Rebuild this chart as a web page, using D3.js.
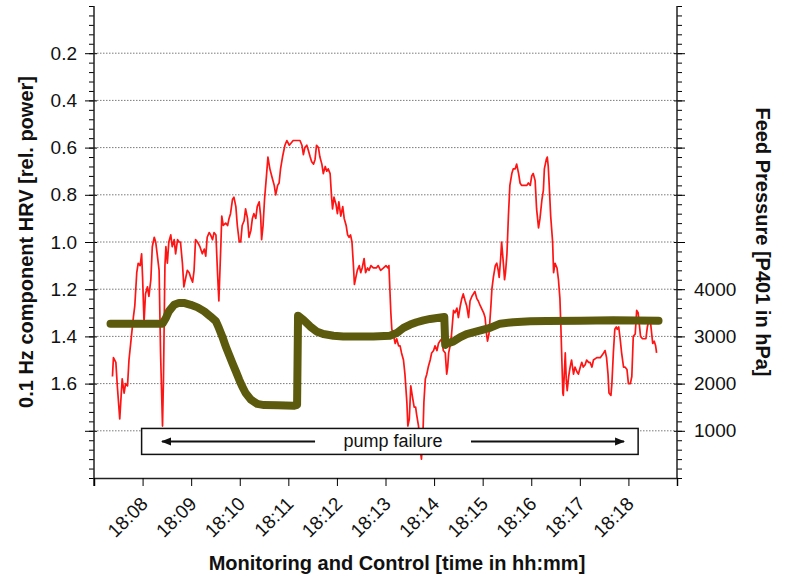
<!DOCTYPE html>
<html lang="en">
<head>
<meta charset="UTF-8">
<title>0.1 Hz HRV vs Feed Pressure</title>
<script src="https://d3js.org/d3.v7.min.js"></script>
<style>
  body { margin: 0; background: #fff; }
  svg { display: block; font-family: Arial, "Liberation Sans", Helvetica, sans-serif; }
</style>
</head>
<body>
<svg width="786" height="577"></svg>
<script>
// [minutes after 18:00, 0.1 Hz component HRV in rel. power]
const hrvSeries = [
  [7.38,1.57],[7.40,1.49],[7.45,1.51],[7.48,1.61],[7.53,1.75],[7.58,1.58],[7.62,1.64],[7.65,1.60],
  [7.69,1.61],[7.72,1.50],[7.77,1.40],[7.81,1.32],[7.84,1.27],[7.88,1.13],[7.91,1.09],[7.95,1.10],
  [7.98,1.05],[8.00,1.15],[8.03,1.34],[8.06,1.22],[8.10,1.19],[8.13,1.23],[8.17,1.16],[8.20,1.02],
  [8.24,0.98],[8.27,1.00],[8.30,1.05],[8.34,1.12],[8.37,1.47],[8.41,1.78],[8.43,1.58],[8.46,1.10],
  [8.48,1.02],[8.51,1.09],[8.54,1.00],[8.58,0.97],[8.61,1.02],[8.65,0.99],[8.68,1.05],[8.72,0.99],
  [8.75,1.00],[8.78,1.00],[8.82,1.09],[8.85,1.19],[8.89,1.15],[8.92,1.12],[8.96,1.13],[8.99,1.15],
  [9.03,1.17],[9.06,1.12],[9.09,0.99],[9.13,1.00],[9.18,1.02],[9.23,1.05],[9.27,1.03],[9.30,1.06],
  [9.33,0.98],[9.37,0.96],[9.40,0.97],[9.44,0.99],[9.47,0.96],[9.51,0.97],[9.54,1.12],[9.57,1.25],
  [9.61,1.02],[9.63,0.89],[9.66,0.93],[9.71,0.92],[9.75,0.93],[9.78,0.90],[9.81,0.88],[9.85,0.82],
  [9.88,0.81],[9.92,0.85],[9.95,0.93],[9.99,1.00],[10.02,1.00],[10.05,0.93],[10.09,0.91],[10.12,0.86],
  [10.16,0.90],[10.19,0.98],[10.23,0.95],[10.26,0.90],[10.29,0.88],[10.33,0.90],[10.36,0.85],[10.40,0.83],
  [10.43,0.89],[10.45,0.99],[10.48,0.93],[10.51,0.82],[10.55,0.72],[10.58,0.64],[10.62,0.69],[10.67,0.73],
  [10.71,0.76],[10.74,0.80],[10.78,0.76],[10.81,0.75],[10.84,0.69],[10.88,0.64],[10.93,0.59],[10.97,0.57],
  [11.02,0.59],[11.10,0.57],[11.17,0.57],[11.24,0.57],[11.28,0.59],[11.31,0.63],[11.34,0.60],[11.38,0.59],
  [11.41,0.61],[11.45,0.64],[11.48,0.66],[11.52,0.67],[11.55,0.65],[11.58,0.59],[11.62,0.60],[11.65,0.64],
  [11.69,0.67],[11.72,0.71],[11.76,0.68],[11.79,0.70],[11.82,0.69],[11.86,0.71],[11.89,0.81],[11.91,0.86],
  [11.94,0.81],[11.98,0.84],[12.01,0.88],[12.04,0.83],[12.08,0.89],[12.12,0.85],[12.15,0.90],[12.19,0.93],
  [12.22,0.97],[12.25,0.98],[12.28,0.97],[12.31,1.00],[12.34,1.10],[12.36,1.18],[12.39,1.15],[12.42,1.12],
  [12.46,1.10],[12.49,1.13],[12.52,1.11],[12.56,1.07],[12.59,1.13],[12.63,1.11],[12.66,1.12],[12.70,1.10],
  [12.75,1.11],[12.81,1.11],[12.85,1.10],[12.90,1.12],[12.96,1.11],[13.01,1.10],[13.05,1.11],[13.07,1.10],
  [13.09,1.20],[13.11,1.30],[13.13,1.37],[13.16,1.39],[13.20,1.43],[13.23,1.41],[13.27,1.44],[13.30,1.44],
  [13.33,1.47],[13.37,1.50],[13.40,1.56],[13.44,1.68],[13.46,1.78],[13.49,1.75],[13.52,1.61],[13.55,1.65],
  [13.59,1.70],[13.62,1.70],[13.64,1.73],[13.68,1.78],[13.71,1.87],[13.74,1.92],[13.77,1.82],[13.79,1.68],
  [13.82,1.58],[13.85,1.56],[13.88,1.53],[13.92,1.50],[13.95,1.47],[13.99,1.46],[14.02,1.44],[14.06,1.46],
  [14.09,1.43],[14.12,1.42],[14.16,1.41],[14.19,1.46],[14.23,1.47],[14.26,1.56],[14.28,1.53],[14.30,1.47],
  [14.33,1.44],[14.36,1.39],[14.40,1.29],[14.43,1.30],[14.47,1.28],[14.50,1.32],[14.54,1.27],[14.57,1.24],
  [14.60,1.22],[14.64,1.25],[14.67,1.27],[14.71,1.32],[14.74,1.25],[14.78,1.23],[14.81,1.22],[14.84,1.21],
  [14.88,1.24],[14.91,1.25],[14.95,1.27],[15.02,1.30],[15.05,1.32],[15.08,1.39],[15.10,1.42],[15.13,1.39],
  [15.17,1.27],[15.19,1.20],[15.22,1.15],[15.26,1.10],[15.29,1.09],[15.32,1.12],[15.34,1.15],[15.37,1.07],
  [15.39,1.00],[15.43,1.10],[15.45,1.16],[15.47,1.13],[15.50,1.05],[15.53,0.89],[15.56,0.76],[15.60,0.71],
  [15.63,0.69],[15.67,0.69],[15.70,0.67],[15.74,0.71],[15.77,0.75],[15.80,0.76],[15.84,0.76],[15.87,0.76],
  [15.91,0.76],[15.94,0.75],[15.98,0.76],[16.01,0.72],[16.04,0.71],[16.08,0.74],[16.11,0.86],[16.15,0.94],
  [16.18,0.90],[16.22,0.82],[16.25,0.78],[16.27,0.69],[16.31,0.65],[16.33,0.64],[16.35,0.68],[16.37,0.76],
  [16.40,0.89],[16.44,1.00],[16.46,1.13],[16.49,1.09],[16.53,1.11],[16.56,1.16],[16.59,1.24],[16.61,1.36],
  [16.63,1.50],[16.65,1.64],[16.66,1.65],[16.68,1.56],[16.70,1.47],[16.72,1.58],[16.74,1.63],[16.77,1.57],
  [16.80,1.53],[16.83,1.50],[16.87,1.56],[16.90,1.53],[16.94,1.55],[16.97,1.56],[17.01,1.53],[17.04,1.51],
  [17.07,1.53],[17.11,1.52],[17.14,1.50],[17.18,1.51],[17.21,1.51],[17.25,1.53],[17.28,1.50],[17.35,1.49],
  [17.42,1.49],[17.49,1.47],[17.52,1.46],[17.55,1.49],[17.58,1.56],[17.60,1.64],[17.64,1.65],[17.66,1.60],
  [17.69,1.47],[17.72,1.37],[17.75,1.36],[17.77,1.37],[17.80,1.36],[17.83,1.41],[17.86,1.47],[17.90,1.53],
  [17.93,1.53],[17.97,1.54],[18.00,1.60],[18.04,1.60],[18.07,1.57],[18.10,1.40],[18.14,1.39],[18.17,1.29],
  [18.20,1.30],[18.23,1.36],[18.25,1.40],[18.29,1.41],[18.32,1.41],[18.36,1.41],[18.39,1.36],[18.42,1.33],
  [18.45,1.33],[18.47,1.37],[18.50,1.43],[18.53,1.42],[18.56,1.44],[18.58,1.47]
];

// [minutes after 18:00, feed pressure P401 in hPa]
const pressureSeries = [
  [7.34,3270],[8.41,3270],[8.48,3390],[8.54,3530],[8.65,3670],[8.75,3710],[8.85,3710],[8.99,3670],
  [9.13,3615],[9.27,3530],[9.40,3420],[9.51,3320],[9.57,3180],[9.64,3000],[9.71,2790],[9.78,2610],
  [9.85,2430],[9.92,2260],[9.99,2080],[10.05,1940],[10.12,1800],[10.23,1660],[10.36,1570],[10.50,1545],
  [10.78,1540],[11.12,1530],[11.18,1550],[11.20,3440],[11.31,3350],[11.45,3210],[11.58,3105],[11.72,3050],
  [11.93,3015],[12.13,3000],[12.41,3000],[12.75,3000],[13.09,3015],[13.23,3070],[13.37,3180],[13.51,3250],
  [13.64,3300],[13.78,3340],[13.92,3370],[14.06,3390],[14.21,3410],[14.23,2820],[14.26,2845],[14.40,2895],
  [14.54,2985],[14.67,3050],[14.88,3105],[15.15,3180],[15.36,3270],[15.63,3300],[15.98,3320],[16.32,3325],
  [17.01,3330],[17.69,3340],[18.62,3330]
];

const hrvLabels = [0.2, 0.4, 0.6, 0.8, 1.0, 1.2, 1.4, 1.6];
const hrvGrid = [0.2, 0.4, 0.6, 0.8, 1.0, 1.2, 1.4, 1.6, 1.8];
const pressureLabels = [1000, 2000, 3000, 4000];
const timeLabels = ["18:08", "18:09", "18:10", "18:11", "18:12", "18:13", "18:14", "18:15", "18:16", "18:17", "18:18"];
// pump failure annotation: box span and arrow span, minutes after 18:00
const failureBox = [7.98, 18.20];
const failureArrows = [[8.40, 11.55], [14.76, 17.91]];

const at = m => new Date(2000, 0, 1, 18, 0, 0, Math.round(m * 60000));
const fmt = d3.timeFormat("%H:%M");

const svg = d3.select("svg");
const plotLeft = 94, plotRight = 677, plotTop = 6, plotBottom = 478;
const tickFont = 19, titleFont = 20;

const x = d3.scaleTime().domain([at(7), at(19)]).range([plotLeft, plotRight]);
const yL = d3.scaleLinear().domain([0, 2]).range([plotTop, plotBottom]);
const yR = d3.scaleLinear().domain([0, 10000]).range([plotBottom, plotTop]);

// gridlines
svg.append("g").selectAll("line")
  .data(hrvGrid)
  .join("line")
  .attr("x1", plotLeft).attr("x2", plotRight)
  .attr("y1", d => yL(d)).attr("y2", d => yL(d))
  .attr("stroke", "#7a7a7a")
  .attr("stroke-width", 1)
  .attr("stroke-dasharray", "1.5,1.5");

// left axis: minor + major ticks
const gL = svg.append("g").attr("transform", `translate(${plotLeft},0)`);
gL.append("g").call(d3.axisLeft(yL).tickValues(d3.range(0, 2.001, 0.04)).tickSize(5).tickFormat(""))
  .call(g => g.select(".domain").remove());
gL.append("g").call(d3.axisLeft(yL).tickValues(d3.range(0.2, 1.81, 0.2)).tickSize(9).tickPadding(8)
    .tickFormat(d => hrvLabels.some(v => Math.abs(v - d) < 1e-6) ? d3.format(".1f")(d) : ""))
  .call(g => g.select(".domain").remove())
  .call(g => g.selectAll(".tick line").attr("x1", 3))
  .call(g => g.selectAll("text").attr("font-size", tickFont).attr("fill", "#111").attr("font-family", null));
gL.append("line").attr("y1", plotTop).attr("y2", plotBottom + 8).attr("stroke", "#222").attr("stroke-width", 1.5);

// right axis
const gR = svg.append("g").attr("transform", `translate(${plotRight},0)`);
gR.append("g").call(d3.axisRight(yR).tickValues(d3.range(0, 10001, 200)).tickSize(5).tickFormat(""))
  .call(g => g.select(".domain").remove());
gR.append("g").call(d3.axisRight(yR).tickValues(d3.range(1000, 9001, 1000)).tickSize(8).tickPadding(9)
    .tickFormat(d => pressureLabels.includes(d) ? d : ""))
  .call(g => g.select(".domain").remove())
  .call(g => g.selectAll(".tick line").attr("x1", -3))
  .call(g => g.selectAll("text").attr("font-size", tickFont).attr("fill", "#111").attr("font-family", null));
gR.append("line").attr("y1", plotTop).attr("y2", plotBottom).attr("stroke", "#222").attr("stroke-width", 1.5);

// bottom axis
const gX = svg.append("g").attr("transform", `translate(0,${plotBottom})`);
gX.call(d3.axisBottom(x).tickValues(d3.range(7, 19.5, 1).map(at)).tickSize(8)
    .tickFormat(d => timeLabels.includes(fmt(d)) ? fmt(d) : ""))
  .call(g => g.select(".domain").attr("stroke-width", 1.5).attr("stroke", "#222"))
  .call(g => g.selectAll("text")
    .attr("font-size", tickFont).attr("fill", "#111").attr("font-family", null)
    .attr("text-anchor", "end")
    .attr("x", 0).attr("y", 0).attr("dy", 0)
    .attr("transform", "translate(6,27) rotate(-45)"));

// HRV line (red)
svg.append("path")
  .datum(hrvSeries)
  .attr("fill", "none")
  .attr("stroke", "#ff1414")
  .attr("stroke-width", 1.7)
  .attr("stroke-linejoin", "round")
  .attr("d", d3.line().x(d => x(at(d[0]))).y(d => yL(d[1])));

// feed pressure line (olive)
svg.append("path")
  .datum(pressureSeries)
  .attr("fill", "none")
  .attr("stroke", "#5c5a0c")
  .attr("stroke-width", 8)
  .attr("stroke-linejoin", "round")
  .attr("stroke-linecap", "round")
  .attr("d", d3.line().x(d => x(at(d[0]))).y(d => yR(d[1])));

// pump failure annotation
const boxTop = yL(1.79), boxBot = yL(1.90), midY = yL(1.845);
svg.append("rect")
  .attr("x", x(at(failureBox[0]))).attr("y", boxTop)
  .attr("width", x(at(failureBox[1])) - x(at(failureBox[0]))).attr("height", boxBot - boxTop)
  .attr("fill", "#fff").attr("stroke", "#111").attr("stroke-width", 1.5);

svg.append("defs").append("marker")
  .attr("id", "head")
  .attr("viewBox", "0 0 10 10").attr("refX", 9).attr("refY", 5)
  .attr("markerWidth", 5).attr("markerHeight", 5)
  .attr("orient", "auto-start-reverse")
  .append("path").attr("d", "M0,1 L10,5 L0,9 Z").attr("fill", "#111");

svg.append("line")
  .attr("x1", x(at(failureArrows[0][1]))).attr("x2", x(at(failureArrows[0][0])))
  .attr("y1", midY).attr("y2", midY)
  .attr("stroke", "#111").attr("stroke-width", 2)
  .attr("marker-end", "url(#head)");
svg.append("line")
  .attr("x1", x(at(failureArrows[1][0]))).attr("x2", x(at(failureArrows[1][1])))
  .attr("y1", midY).attr("y2", midY)
  .attr("stroke", "#111").attr("stroke-width", 2)
  .attr("marker-end", "url(#head)");
svg.append("text")
  .attr("x", x(at((failureArrows[0][1] + failureArrows[1][0]) / 2)))
  .attr("y", midY + 6)
  .attr("text-anchor", "middle")
  .attr("font-size", 18)
  .attr("fill", "#111")
  .text("pump failure");

// axis titles
svg.append("text")
  .attr("transform", `translate(33,${(plotTop + plotBottom) / 2}) rotate(-90)`)
  .attr("text-anchor", "middle")
  .attr("font-size", titleFont).attr("font-weight", "bold").attr("fill", "#111")
  .text("0.1 Hz component HRV [rel. power]");

svg.append("text")
  .attr("transform", `translate(756,${(plotTop + plotBottom) / 2}) rotate(90)`)
  .attr("text-anchor", "middle")
  .attr("font-size", titleFont).attr("font-weight", "bold").attr("fill", "#111")
  .text("Feed Pressure [P401 in hPa]");

svg.append("text")
  .attr("x", 397).attr("y", 570)
  .attr("text-anchor", "middle")
  .attr("font-size", titleFont).attr("font-weight", "bold").attr("fill", "#111")
  .text("Monitoring and Control [time in hh:mm]");
</script>
</body>
</html>
